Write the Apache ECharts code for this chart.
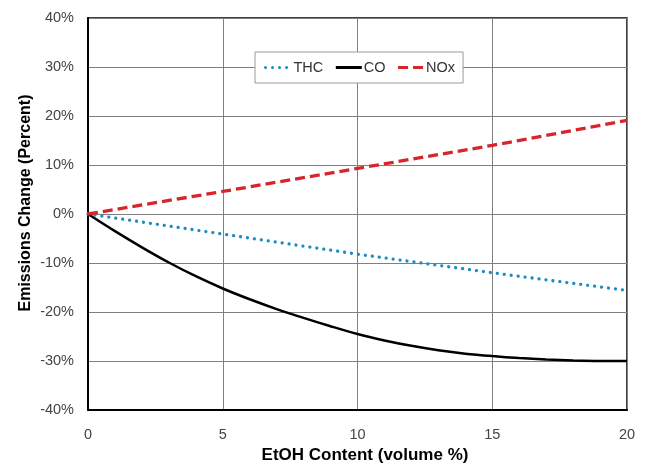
<!DOCTYPE html>
<html>
<head>
<meta charset="utf-8">
<script src="https://cdn.jsdelivr.net/npm/echarts@6/dist/echarts.min.js"></script>
<style>
html,body{margin:0;padding:0;background:#fff;}
#c{width:646px;height:463px;}
</style>
</head>
<body>
<div id="c"></div>
<script>
const xTHC = [0, 5, 10, 15, 20];
const thc = [0, -4.1, -8.2, -12.0, -15.6];
const xNOx = [0, 5, 10, 15, 20];
const nox = [0, 4.6, 9.3, 14.0, 19.1];
const xCO = [0, 1, 2, 3, 4, 5, 6, 7, 8, 9, 10, 11, 12, 13, 14, 15, 16, 17, 18, 19, 20];
const co = [0, -3.5, -6.8, -9.9, -12.7, -15.2, -17.4, -19.4, -21.2, -22.9, -24.5, -25.8, -26.9, -27.8, -28.5, -29.0, -29.4, -29.7, -29.9, -30.0, -30.0];
const seriesNames = ['THC', 'CO', 'NOx'];

const zip = (xs, ys) => xs.map((x, i) => [x, ys[i]]);
const FONT = 'Liberation Sans, Arial, sans-serif';
const chart = echarts.init(document.getElementById('c'), null, {renderer: 'canvas'});
chart.setOption({
  animation: false,
  backgroundColor: '#fff',
  grid: {left: 88, right: 19, top: 18, bottom: 53, show: true, borderColor: '#000', borderWidth: 1.5,
         containLabel: false, outerBoundsMode: 'none'},
  legend: {
    data: seriesNames,
    left: 255, top: 52,
    padding: [8, 8, 8, 9],
    itemGap: 11,
    itemWidth: 26, itemHeight: 12,
    borderColor: '#999', borderWidth: 1,
    backgroundColor: '#fff',
    itemStyle: {opacity: 0},
    lineStyle: {width: 3},
    textStyle: {fontFamily: FONT, fontSize: 14.5, color: '#333', padding: [0, 0, 0, -3]}
  },
  xAxis: {
    type: 'value', min: 0, max: 20, interval: 5,
    name: 'EtOH Content (volume %)', nameLocation: 'middle', nameGap: 37, nameMoveOverlap: false,
    nameTextStyle: {fontFamily: FONT, fontSize: 17, fontWeight: 'bold', color: '#000', padding: [0, 0, 0, 15]},
    axisLine: {show: true, onZero: false, lineStyle: {color: '#000', width: 2}},
    axisTick: {show: false},
    axisLabel: {fontFamily: FONT, fontSize: 14.5, color: '#444', margin: 17},
    splitLine: {show: true, lineStyle: {color: '#808080', width: 1}}
  },
  yAxis: {
    type: 'value', min: -40, max: 40, interval: 10,
    name: 'Emissions Change (Percent)', nameLocation: 'middle', nameGap: 54, nameMoveOverlap: false,
    nameTextStyle: {fontFamily: FONT, fontSize: 16, fontWeight: 'bold', color: '#000', padding: [0, 0, 0, 22]},
    axisLine: {show: true, onZero: false, lineStyle: {color: '#000', width: 2}},
    axisTick: {show: false},
    axisLabel: {fontFamily: FONT, fontSize: 14.5, color: '#444', margin: 14, formatter: '{value}%'},
    splitLine: {show: true, lineStyle: {color: '#808080', width: 1}}
  },
  series: [
    {name: 'THC', type: 'line', data: zip(xTHC, thc), showSymbol: false, symbol: 'none',
     lineStyle: {color: '#1e8bc3', width: 3.3, type: [0.01, 7], cap: 'round'}, itemStyle: {color: '#1e8bc3'}, z: 3},
    {name: 'CO', type: 'line', data: zip(xCO, co), smooth: 0.3, showSymbol: false, symbol: 'none',
     lineStyle: {color: '#000', width: 2.5}, itemStyle: {color: '#000'}, z: 4},
    {name: 'NOx', type: 'line', data: zip(xNOx, nox), showSymbol: false, symbol: 'none',
     lineStyle: {color: '#d7262b', width: 3.3, type: [10, 5]}, itemStyle: {color: '#d7262b'}, z: 5}
  ]
});
</script>
</body>
</html>
